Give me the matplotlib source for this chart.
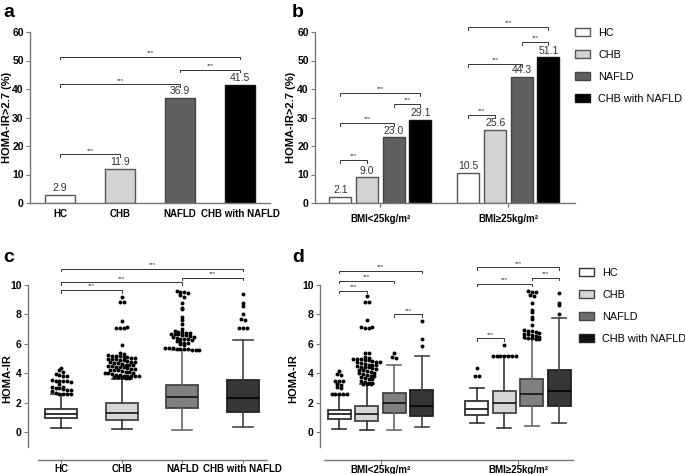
import matplotlib
matplotlib.use("Agg")
import matplotlib.pyplot as plt
from matplotlib.patches import Patch
import numpy as np

plt.rcParams['font.family'] = ['Liberation Sans', 'DejaVu Sans']

# ---------------- data ----------------
groups = ["HC", "CHB", "NAFLD", "CHB with NAFLD"]
bmi_labels = ["BMI<25kg/m\u00b2", "BMI\u226525kg/m\u00b2"]

# panel a: % HOMA-IR > 2.7
pct_all = [2.9, 11.9, 36.9, 41.5]
# panel b: by BMI group
pct_bmi_low = [2.1, 9.0, 23.0, 29.1]
pct_bmi_high = [10.5, 25.6, 44.3, 51.1]

# significance brackets: (i, j, height)
sig_a = [(0, 1, 17.1), (0, 2, 41.6), (2, 3, 46.8), (0, 3, 51.4)]
sig_b_low = [(0, 1, 15.1), (0, 2, 28.1), (2, 3, 34.7), (0, 3, 38.6)]
sig_b_high = [(0, 1, 30.9), (0, 2, 48.8), (2, 3, 56.5), (0, 3, 61.8)]

# panel c: box stats (q1, median, q3, whisker low, whisker high)
box_c = [(0.95, 1.27, 1.58, 0.27, 2.58),
         (0.84, 1.30, 2.00, 0.20, 3.65),
         (1.63, 2.37, 3.21, 0.16, 5.62),
         (1.40, 2.36, 3.54, 0.38, 6.26)]
fliers_c_hc = [4.35, 4.2, 4.1, 3.95, 3.9, 3.85, 3.8, 3.55, 3.5, 3.5, 3.45, 3.45, 3.4, 3.3,
               3.1, 3.05, 3.0, 3.0, 2.95, 2.9, 2.85, 2.8, 2.7, 2.6, 2.6, 2.6, 2.6]
fliers_c_chb = [9.2, 8.85, 8.85, 7.55, 7.1, 7.05, 7.1, 7.15, 5.9,
                5.35, 5.3, 5.25, 5.2, 5.2, 5.15, 5.1, 5.1, 5.05, 5.05, 5.0, 5.0, 4.95, 4.9,
                4.9, 4.85, 4.8, 4.8, 4.75, 4.7, 4.7, 4.65, 4.6, 4.6, 4.55, 4.5, 4.5, 4.45,
                4.4, 4.4, 4.35, 4.3, 4.3, 4.25, 4.2, 4.2, 4.15, 4.1, 4.1, 4.05, 4.0, 4.0,
                3.95, 3.9, 3.9, 3.85, 3.85, 3.8, 3.8, 3.8, 3.75, 3.75, 3.75, 3.7, 3.7]
fliers_c_nafld = [9.6, 9.55, 9.5, 9.45, 9.3, 9.2, 8.8, 8.45, 8.35, 7.85, 7.6, 7.35, 7.0,
                  6.85, 6.8, 6.8, 6.75, 6.75, 6.7, 6.7, 6.65, 6.6, 6.6, 6.55, 6.5, 6.45,
                  6.4, 6.35, 6.3, 6.3, 6.25, 6.2, 6.1, 6.05, 6.05, 6.0, 5.95, 5.75, 5.7,
                  5.7, 5.65, 5.65, 5.65, 5.65, 5.6, 5.6, 5.6]
fliers_c_both = [9.4, 8.75, 8.6, 8.0, 7.7, 7.65, 7.1, 7.05, 7.1]
sig_c = [(0, 1, 9.66), (0, 2, 10.2), (2, 3, 10.5), (0, 3, 11.1)]

# panel d: box stats by BMI group
box_d_low = [(0.88, 1.22, 1.54, 0.25, 2.50),
             (0.77, 1.27, 1.77, 0.18, 3.25),
             (1.34, 2.02, 2.68, 0.16, 4.56),
             (1.11, 1.79, 2.90, 0.36, 5.17)]
box_d_high = [(1.20, 1.56, 2.13, 0.66, 3.04),
              (1.31, 2.02, 2.79, 0.29, 5.17),
              (1.79, 2.59, 3.60, 0.43, 6.30),
              (1.79, 2.79, 4.26, 0.66, 7.73)]
fliers_d_low_hc = [4.17, 3.95, 3.9, 3.5, 3.5, 3.45, 3.25, 3.2, 3.05, 3.0, 2.6, 2.6, 2.6, 2.6, 2.6]
fliers_d_low_chb = [9.25, 8.85, 8.85, 7.6, 7.15, 7.1, 7.1, 7.15, 5.35, 5.35,
                    5.1, 5.05, 5.0, 5.0, 4.95, 4.9, 4.9, 4.85, 4.8, 4.8, 4.75, 4.7, 4.65,
                    4.6, 4.6, 4.55, 4.5, 4.45, 4.4, 4.4, 4.35, 4.3, 4.25, 4.2, 4.15, 4.1,
                    4.05, 4.0, 3.95, 3.9, 3.85, 3.8, 3.75, 3.7, 3.65, 3.6, 3.45, 3.4, 3.35,
                    3.35, 3.3, 3.3, 3.3]
fliers_d_low_nafld = [5.35, 5.1, 5.05]
fliers_d_low_both = [7.57, 6.3, 5.87]
fliers_d_high_hc = [4.37, 3.83, 3.83]
fliers_d_high_chb = [5.94, 5.2, 5.2, 5.2, 5.15, 5.15, 5.2, 5.2]
fliers_d_high_nafld = [9.6, 9.55, 9.5, 9.3, 9.25, 8.8, 8.3, 8.2, 7.8, 7.67, 7.28, 6.95, 6.9,
                       6.85, 6.8, 6.75, 6.7, 6.65, 6.6, 6.55, 6.5, 6.45, 6.4, 6.4, 6.35, 6.35]
fliers_d_high_both = [9.48, 8.8, 8.64, 8.0]
sig_d_low = [(0, 1, 9.61), (0, 2, 10.3), (0, 3, 10.97), (2, 3, 8.0)]
sig_d_high = [(0, 1, 6.37), (0, 2, 10.1), (2, 3, 10.5), (0, 3, 11.2)]

# ---------------- style ----------------
bar_colors = ["white", "#d3d3d3", "#606060", "black"]
bar_edges = ["#555555", "#555555", "#444444", "#111111"]
box_colors = ["white", "#d6d6d6", "#808080", "#363636"]
box_edges = ["#333333", "#444444", "#444444", "#222222"]
whisk_colors = ["#333333", "#333333", "#6a6a6a", "#444444"]
spine_col = "#777777"
TICK_FS = 7.5
XTICK_FS = 7

W, H = 685, 474
fig = plt.figure(figsize=(W / 100, H / 100), dpi=100)


def rect(x0, x1, ytop, ybot):
    return [x0 / W, 1 - ybot / H, (x1 - x0) / W, (ybot - ytop) / H]


def style_axes(ax):
    for s in ["top", "right"]:
        ax.spines[s].set_visible(False)
    for s in ["left", "bottom"]:
        ax.spines[s].set_color(spine_col)
        ax.spines[s].set_linewidth(1.0)
    ax.tick_params(axis='both', length=3, width=0.8, color=spine_col, pad=1.5)
    for lab in ax.get_yticklabels():
        lab.set_fontweight('bold')
        lab.set_fontsize(TICK_FS)
    for lab in ax.get_xticklabels():
        lab.set_fontweight('bold')
        lab.set_fontsize(XTICK_FS)


def bracket(ax, x1, x2, y, tick):
    ax.plot([x1, x1, x2, x2], [y - tick, y, y, y - tick], color="#333333", lw=0.7,
            clip_on=False, solid_joinstyle='miter')
    ax.text((x1 + x2) / 2, y + tick * 0.6, "***", ha='center', va='bottom', fontsize=4.5,
            color="#333333", clip_on=False)


def row_offsets(vals, ppu_y, ppu_x, d=3.8, rowh=3.6):
    """GraphPad-like scatter: bin values into rows and spread each row sideways."""
    rows = {}
    for idx, v in enumerate(vals):
        r = int(round(v * ppu_y / rowh))
        rows.setdefault(r, []).append(idx)
    offs = [0.0] * len(vals)
    for r, idxs in rows.items():
        n = len(idxs)
        for k, idx in enumerate(idxs):
            offs[idx] = (k - (n - 1) / 2) * d / ppu_x
    return offs


def legend(handles, x_px, y_px):
    fig.legend(handles, groups, loc='upper left', bbox_to_anchor=(x_px / W, 1 - y_px / H),
               frameon=False, fontsize=7.8, handlelength=1.4, handleheight=0.75,
               labelspacing=1.1, handletextpad=0.75, borderaxespad=0, borderpad=0)


# ---------------- panel a ----------------
axa = fig.add_axes(rect(30, 270, 32, 203))
xa = np.arange(len(groups))
axa.bar(xa, pct_all, width=0.49, color=bar_colors, edgecolor=bar_edges, linewidth=1.0)
for x, v in zip(xa, pct_all):
    axa.text(x, v + 0.6, f"{v:.1f}", ha='center', va='bottom', fontsize=7.5, color="#333333")
axa.set_xlim(-0.5, 3.5)
axa.set_ylim(0, 60)
axa.set_yticks(range(0, 61, 10))
axa.set_xticks(xa)
axa.set_xticklabels(groups)
axa.set_ylabel("HOMA-IR>2.7 (%)", fontsize=8, fontweight='bold')
axa.yaxis.set_label_coords((12 - 30) / 240, 0.5)
style_axes(axa)
axa.tick_params(axis='x', length=0, pad=4)
for i, j, h in sig_a:
    bracket(axa, xa[i], xa[j], h, 1.0)

# ---------------- panel b ----------------
axb = fig.add_axes(rect(315, 575, 32, 203))
bw_off = 0.208
for g, vals in enumerate([pct_bmi_low, pct_bmi_high]):
    xs = g + (np.arange(4) - 1.5) * bw_off
    axb.bar(xs, vals, width=0.172, color=bar_colors, edgecolor=bar_edges, linewidth=1.0)
    for x, v in zip(xs, vals):
        axb.text(x, v + 0.6, f"{v:.1f}", ha='center', va='bottom', fontsize=7.5, color="#333333")
    for i, j, h in [sig_b_low, sig_b_high][g]:
        bracket(axb, xs[i], xs[j], h, 1.0)
axb.set_xlim(-0.51, 1.52)
axb.set_ylim(0, 60)
axb.set_yticks(range(0, 61, 10))
axb.set_xticks([0, 1])
axb.set_xticklabels(bmi_labels)
axb.set_ylabel("HOMA-IR>2.7 (%)", fontsize=8, fontweight='bold')
axb.yaxis.set_label_coords((296 - 315) / 260, 0.5)
style_axes(axb)
axb.tick_params(axis='x', pad=5)

handles = [Patch(facecolor=c, edgecolor=e, linewidth=1.0) for c, e in zip(bar_colors, bar_edges)]
legend(handles, 575, 28)


# ---------------- boxes ----------------
def draw_boxes(ax, positions, stats, fliers, width, ppu_x):
    for k, (pos, (q1, med, q3, lo, hi)) in enumerate(zip(positions, stats)):
        st = dict(q1=q1, med=med, q3=q3, whislo=lo, whishi=hi, fliers=[])
        ax.bxp([st], positions=[pos], widths=width, patch_artist=True, showfliers=False,
               boxprops=dict(facecolor=box_colors[k], edgecolor=box_edges[k], linewidth=1.3),
               medianprops=dict(color="#111111" if k < 3 else "#000000", linewidth=1.2),
               whiskerprops=dict(color=whisk_colors[k], linewidth=1.2),
               capprops=dict(color=whisk_colors[k], linewidth=1.2),
               capwidths=width * 0.62, manage_ticks=False)
        offs = row_offsets(fliers[k], 14.7, ppu_x)
        ax.scatter(np.array(offs) + pos, fliers[k], s=8, color='black', linewidths=0,
                   zorder=5, clip_on=False)


# panel c
axc = fig.add_axes(rect(28, 267, 285, 447))
axc.spines['bottom'].set_position(('outward', 9))
xc = np.arange(4)
draw_boxes(axc, xc, box_c, [fliers_c_hc, fliers_c_chb, fliers_c_nafld, fliers_c_both],
           0.53, 60.5)
axc.set_xlim(-0.55, 3.4)
axc.set_ylim(-1, 10)
axc.set_yticks(range(0, 11, 2))
axc.set_xticks(xc)
axc.set_xticklabels(groups)
axc.set_ylabel("HOMA-IR", fontsize=8, fontweight='bold')
axc.yaxis.set_label_coords((12 - 28) / 239, (432 - 364) / 162)
style_axes(axc)
axc.tick_params(axis='x', length=2, pad=1)
axc.spines['bottom'].set_bounds(-0.38, 3.4)
axc.spines['left'].set_bounds(-1, 10)
for i, j, h in sig_c:
    bracket(axc, xc[i], xc[j], h, 0.17)

# panel d
axd = fig.add_axes(rect(320, 573, 285, 447))
axd.spines['bottom'].set_position(('outward', 9))
off_d = 0.2
fl_d = [[fliers_d_low_hc, fliers_d_low_chb, fliers_d_low_nafld, fliers_d_low_both],
        [fliers_d_high_hc, fliers_d_high_chb, fliers_d_high_nafld, fliers_d_high_both]]
for g, stats in enumerate([box_d_low, box_d_high]):
    xs = g + (np.arange(4) - 1.5) * off_d
    draw_boxes(axd, xs, stats, fl_d[g], 0.167, 137.5)
    for i, j, h in [sig_d_low, sig_d_high][g]:
        bracket(axd, xs[i], xs[j], h, 0.17)
axd.set_xlim(-0.44, 1.40)
axd.set_ylim(-1, 10)
axd.set_yticks(range(0, 11, 2))
axd.set_xticks([0, 1])
axd.set_xticklabels(bmi_labels)
axd.set_ylabel("HOMA-IR", fontsize=8, fontweight='bold')
axd.yaxis.set_label_coords((298 - 320) / 253, (432 - 364) / 162)
style_axes(axd)
axd.tick_params(axis='x', length=3, pad=1)
axd.spines['bottom'].set_bounds(-0.41, 1.40)
axd.spines['left'].set_bounds(-1, 10)

handles_d = [Patch(facecolor=c, edgecolor=e, linewidth=1.0)
             for c, e in zip(["white", "#d6d6d6", "#6e6e6e", "#111111"], box_edges)]
legend(handles_d, 579, 268)

# panel letters
for txt, x, y in [("a", 3, 4), ("b", 292, 4), ("c", 3, 249), ("d", 292, 249)]:
    fig.text(x / W, 1 - y / H, txt, fontsize=14, fontweight='bold', va='top', ha='left')

fig.savefig("out.png", dpi=100)
